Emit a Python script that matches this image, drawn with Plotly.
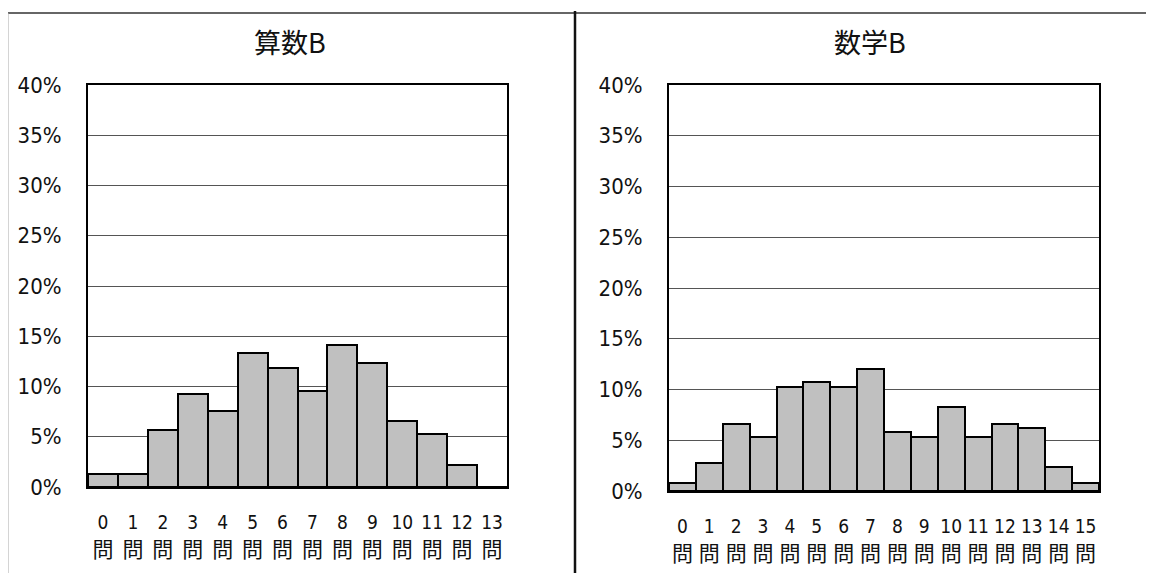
import plotly.graph_objects as go

# ---- data ----
titles = ["算数B", "数学B"]
left_cats = [str(i) for i in range(14)]
left_vals = [1.3, 1.3, 5.7, 9.3, 7.6, 13.3, 11.8, 9.6, 14.1, 12.3, 6.6, 5.3, 2.2, 0.0]
right_cats = [str(i) for i in range(16)]
right_vals = [0.8, 2.8, 6.6, 5.3, 10.2, 10.7, 10.2, 12.0, 5.8, 5.3, 8.3, 5.3, 6.6, 6.2, 2.4, 0.8]
unit = "問"

W, H = 1154, 573
OFF = 8  # page body margin offset
NUM_FONT = "DejaVu Sans Condensed, Liberation Sans Narrow, Roboto, sans-serif"
CJK_FONT = "Noto Sans CJK JP, sans-serif"

fig = go.Figure()

def px_x(x):
    return (x - OFF) / W

def px_y(y):
    return 1 - (y - OFF) / H

panels = [
    dict(cats=left_cats, vals=left_vals, xd=(88, 507), yd=(85, 487), title_x=290),
    dict(cats=right_cats, vals=right_vals, xd=(669, 1099), yd=(85, 491), title_x=870),
]

for i, p in enumerate(panels):
    n = len(p["cats"])
    xs = list(range(n))
    xa = "x" if i == 0 else "x2"
    ya = "y" if i == 0 else "y2"
    xa_u = "x3" if i == 0 else "x4"
    fig.add_trace(go.Bar(
        x=xs,
        y=[v / 100 for v in p["vals"]],
        xaxis=xa, yaxis=ya,
        marker=dict(color="#c0c0c0", line=dict(color="black", width=2)),
        width=1.0,
        showlegend=False,
        hoverinfo="skip",
    ))
    # invisible companion trace carrying the "問" label axis
    fig.add_trace(go.Scatter(
        x=xs, y=[v / 100 for v in p["vals"]],
        xaxis=xa_u, yaxis=ya, mode="markers",
        marker=dict(opacity=0), showlegend=False, hoverinfo="skip",
    ))
    sfx = "" if i == 0 else "2"
    sfx_u = "3" if i == 0 else "4"
    domain = [px_x(p["xd"][0]), px_x(p["xd"][1])]
    fig.update_layout(**{
        "xaxis" + sfx: dict(
            domain=domain,
            range=[-0.5, n - 0.5],
            tickmode="array", tickvals=xs, ticktext=p["cats"],
            ticks="", showgrid=False, zeroline=False,
            showline=True, linecolor="black", linewidth=2, mirror=True,
            tickfont=dict(family=NUM_FONT, size=19, color="#111"),
            anchor=ya,
            ticklabelstandoff=17,
            automargin=False,
            fixedrange=True,
        ),
        "xaxis" + sfx_u: dict(
            domain=domain,
            range=[-0.5, n - 0.5],
            overlaying=xa,
            side="bottom",
            tickmode="array", tickvals=xs, ticktext=[unit] * n,
            ticks="", showgrid=False, zeroline=False, showline=False,
            tickfont=dict(family=CJK_FONT, size=21, color="#111"),
            anchor=ya,
            ticklabelstandoff=48,
            automargin=False,
            fixedrange=True,
        ),
        "yaxis" + sfx: dict(
            domain=[px_y(p["yd"][1]), px_y(p["yd"][0])],
            range=[0, 0.4],
            dtick=0.05, tickformat=".0%",
            showgrid=True, gridcolor="#555", gridwidth=1,
            zeroline=False,
            showline=True, linecolor="black", linewidth=2, mirror=True,
            ticks="",
            tickfont=dict(family=NUM_FONT, size=22, color="#111"),
            anchor=xa,
            ticklabelstandoff=20,
            automargin=False,
            fixedrange=True,
        ),
    })
    fig.add_annotation(
        x=px_x(p["title_x"]), y=px_y(42), xref="paper", yref="paper",
        text=titles[i], showarrow=False,
        font=dict(family=CJK_FONT, size=27, color="#111"),
        xanchor="center", yanchor="middle",
    )

# panel frames
frame_shapes = [
    dict(x0=px_x(8), x1=px_x(575), y0=px_y(13), y1=px_y(13), color="#333", width=1.5),
    dict(x0=px_x(8), x1=px_x(8), y0=px_y(13), y1=px_y(590), color="#aaa", width=1),
    dict(x0=px_x(575), x1=px_x(1170), y0=px_y(13), y1=px_y(13), color="#333", width=1.5),
    dict(x0=px_x(575), x1=px_x(575), y0=px_y(11), y1=px_y(590), color="#111", width=2.5),
]
for s in frame_shapes:
    fig.add_shape(type="line", xref="paper", yref="paper",
                  x0=s["x0"], x1=s["x1"], y0=s["y0"], y1=s["y1"],
                  line=dict(color=s["color"], width=s["width"]), layer="above")

fig.update_layout(
    width=W, height=H,
    margin=dict(l=0, r=0, t=0, b=0, autoexpand=False),
    paper_bgcolor="white", plot_bgcolor="white",
    bargap=0,
)

fig.write_html("out.html", config={"displayModeBar": False})
